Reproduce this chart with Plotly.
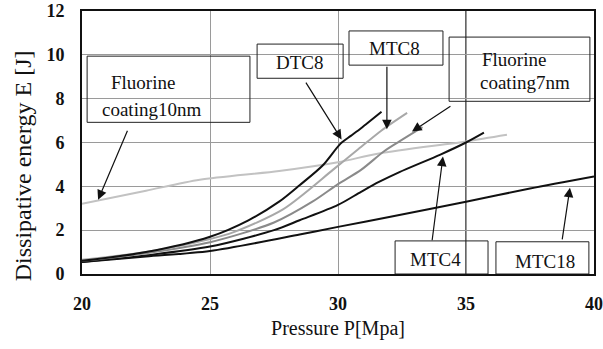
import plotly.graph_objects as go

# ---- data ----
dtc8_x = [20, 22.5, 25, 26.5, 27.7, 28.5, 29.4, 30.1, 30.5, 30.9, 31.7]
dtc8_y = [0.6, 1.0, 1.7, 2.45, 3.3, 4.05, 4.95, 5.95, 6.3, 6.65, 7.4]

mtc8_x = [20, 22.5, 25, 25.9, 27.85, 29.8, 30.8, 31.7, 32.7]
mtc8_y = [0.65, 1.0, 1.6, 1.9, 2.95, 4.75, 5.7, 6.55, 7.35]

fl7_x = [20, 22.5, 25, 27.5, 29, 30, 30.9, 31.8, 32.4, 33.3]
fl7_y = [0.6, 0.95, 1.45, 2.35, 3.3, 4.1, 4.75, 5.6, 6.05, 6.7]

mtc4_x = [20, 22.5, 25, 27.5, 28.5, 30, 30.9, 31.6, 32.4, 34, 35, 35.7]
mtc4_y = [0.55, 0.85, 1.25, 2.0, 2.45, 3.15, 3.75, 4.2, 4.65, 5.45, 6.0, 6.45]

mtc18_x = [20, 22.5, 25, 28.5, 30, 32, 35, 37.5, 40]
mtc18_y = [0.55, 0.8, 1.05, 1.8, 2.15, 2.6, 3.3, 3.9, 4.45]

fl10_x = [20, 22.5, 24.6, 27.7, 30, 31.6, 35, 36.6]
fl10_y = [3.2, 3.8, 4.3, 4.7, 5.1, 5.5, 6.05, 6.35]

x_ticks = [20, 25, 30, 35, 40]
y_ticks = [0, 2, 4, 6, 8, 10, 12]

SERIF = "Liberation Serif"

fig = go.Figure()

series = [
    ("Fluorine coating10nm", fl10_x, fl10_y, "#c2c2c2", 2),
    ("MTC18", mtc18_x, mtc18_y, "#111111", 2),
    ("MTC4", mtc4_x, mtc4_y, "#111111", 2),
    ("Fluorine coating7nm", fl7_x, fl7_y, "#8a8a8a", 2),
    ("MTC8", mtc8_x, mtc8_y, "#a8a8a8", 2),
    ("DTC8", dtc8_x, dtc8_y, "#111111", 2),
]
for name, xs, ys, col, w in series:
    fig.add_trace(go.Scatter(x=xs, y=ys, mode="lines", name=name,
                             line=dict(color=col, width=w, shape="spline", smoothing=0.8),
                             showlegend=False))

# darker vertical line at x=35
fig.add_shape(type="line", x0=35, x1=35, y0=0, y1=12, xref="x", yref="y",
              line=dict(color="#333333", width=1.5), layer="below")

# label boxes
boxes = [
    (20.2, 6.92, 26.56, 9.94),
    (26.84, 8.93, 30.2, 10.49),
    (30.43, 9.53, 34.1, 11.09),
    (34.34, 7.88, 39.84, 10.81),
    (32.23, 0, 35.86, 1.51),
    (36.17, 0, 39.8, 1.47),
]
for x0, y0, x1, y1 in boxes:
    fig.add_shape(type="rect", x0=x0, y0=y0, x1=x1, y1=y1, xref="x", yref="y",
                  line=dict(color="#222222", width=1), fillcolor="rgba(0,0,0,0)")

# label texts
texts = [
    ("Fluorine", 22.4, 8.75, "center"),
    ("coating10nm", 22.7, 7.5, "center"),
    ("DTC8", 28.52, 9.67, "center"),
    ("MTC8", 32.19, 10.3, "center"),
    ("Fluorine", 35.55, 9.8, "left"),
    ("coating7nm", 35.47, 8.75, "left"),
    ("MTC4", 33.8, 0.64, "center"),
    ("MTC18", 38.1, 0.58, "center"),
]
for t, x, y, al in texts:
    fig.add_annotation(text=t, x=x, y=y, xref="x", yref="y", showarrow=False,
                       xanchor=al, yanchor="middle",
                       font=dict(family=SERIF, size=19, color="#111111"))

# arrows (tail -> head)
arrows = [
    (21.8, 6.6, 20.63, 3.39),
    (28.71, 8.8, 30.14, 6.14),
    (31.91, 9.53, 31.91, 6.6),
    (34.45, 7.7, 32.89, 6.5),
    (33.67, 1.47, 34.1, 5.36),
    (38.75, 1.51, 39.06, 3.94),
]
for tx, ty, hx, hy in arrows:
    fig.add_annotation(x=hx, y=hy, ax=tx, ay=ty, xref="x", yref="y",
                       axref="x", ayref="y", text="", showarrow=True,
                       arrowhead=2, arrowsize=1.6, arrowwidth=1.2,
                       arrowcolor="#111111")

# y-axis title (placed as rotated text, like the reference)
fig.add_annotation(text="Dissipative energy E [J]", xref="paper", yref="paper",
                   x=-0.115, y=0.41, xanchor="center", yanchor="middle",
                   textangle=-90, showarrow=False,
                   font=dict(family=SERIF, size=24, color="#111111"))

fig.update_layout(
    width=603, height=349,
    margin=dict(l=82, r=9, t=11, b=75, autoexpand=False),
    paper_bgcolor="white", plot_bgcolor="white",
    font=dict(family=SERIF, color="#111111"),
    xaxis=dict(range=[20, 40], tickvals=x_ticks, ticktext=[f"<b>{v}</b>" for v in x_ticks],
               showgrid=True, gridcolor="#9a9a9a", gridwidth=1, automargin=False,
               showline=True, linecolor="#111111", linewidth=2, mirror=True,
               zeroline=False, ticks="", ticklabelstandoff=12,
               tickfont=dict(family=SERIF, size=18, color="#111111"),
               title=dict(text="Pressure P[Mpa]", standoff=8,
                          font=dict(family=SERIF, size=20, color="#111111"))),
    yaxis=dict(range=[0, 12], tickvals=y_ticks, ticktext=[f"<b>{v}</b>" for v in y_ticks],
               showgrid=True, gridcolor="#9a9a9a", gridwidth=1, automargin=False,
               showline=True, linecolor="#111111", linewidth=2, mirror=True,
               zeroline=False, ticks="", ticklabelstandoff=12,
               tickfont=dict(family=SERIF, size=18, color="#111111")),
)

fig.write_html("out.html")
